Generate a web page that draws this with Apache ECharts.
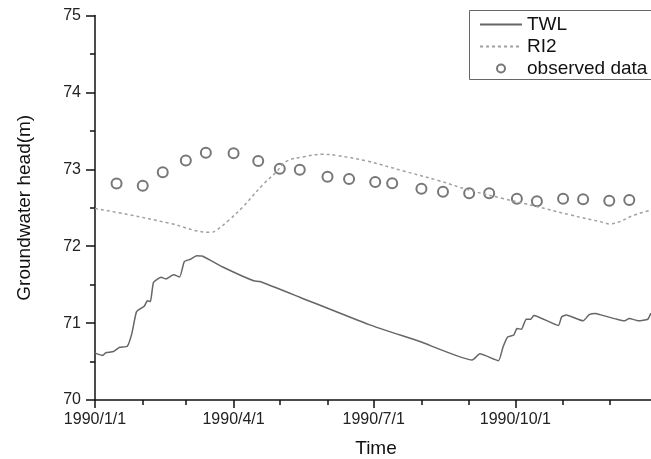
<!DOCTYPE html>
<html>
<head>
<meta charset="utf-8">
<script src="https://cdn.jsdelivr.net/npm/echarts@6/dist/echarts.min.js"></script>
<style>
html, body { margin: 0; padding: 0; background: #fff; }
#chart { width: 651px; height: 459px; }
</style>
</head>
<body>
<div id="chart"></div>
<script>
// simulated heads, TWL
var twlDates = ['1990-01-01','1990-01-06','1990-01-08','1990-01-13','1990-01-17','1990-01-22','1990-01-25','1990-01-28',
    '1990-02-02','1990-02-04','1990-02-06','1990-02-08','1990-02-13','1990-02-16','1990-02-21','1990-02-25','1990-02-28',
    '1990-03-04','1990-03-08','1990-03-12','1990-03-25','1990-04-14','1990-04-18','1990-05-14','1990-06-28','1990-07-31',
    '1990-09-03','1990-09-08','1990-09-20','1990-09-23','1990-09-26','1990-09-30','1990-10-02','1990-10-05','1990-10-08',
    '1990-10-11','1990-10-13','1990-10-29','1990-10-31','1990-11-03','1990-11-14','1990-11-18','1990-11-22','1990-11-25',
    '1990-12-06','1990-12-11','1990-12-14','1990-12-20','1990-12-26','1990-12-28'];
var twlValues = [70.61,70.58,70.615,70.63,70.685,70.70,70.87,71.15,
    71.22,71.29,71.28,71.53,71.595,71.575,71.63,71.60,71.80,
    71.83,71.876,71.87,71.73,71.55,71.54,71.337,70.98,70.76,
    70.52,70.60,70.51,70.69,70.82,70.845,70.93,70.92,71.05,
    71.05,71.10,70.97,71.08,71.105,71.03,71.11,71.125,71.11,
    71.05,71.03,71.06,71.03,71.05,71.13];

// RI2
var ri2Dates = ['1990-01-01','1990-01-23','1990-02-18','1990-03-17','1990-03-21','1990-03-29','1990-04-07','1990-04-20',
    '1990-04-29','1990-05-05','1990-05-16','1990-05-29','1990-06-07','1990-06-26','1990-07-20','1990-08-11','1990-09-01',
    '1990-09-23','1990-10-14','1990-11-05','1990-11-27','1990-12-01','1990-12-18','1990-12-28'];
var ri2Values = [72.49,72.41,72.30,72.18,72.21,72.34,72.51,72.80,
    72.97,73.10,73.16,73.195,73.18,73.11,72.98,72.86,72.73,
    72.62,72.52,72.41,72.31,72.29,72.41,72.47];

// observed data
var obsDates = ['1990-01-15','1990-02-01','1990-02-14','1990-03-01','1990-03-14','1990-04-01','1990-04-17','1990-05-01',
    '1990-05-14','1990-06-01','1990-06-15','1990-07-02','1990-07-13','1990-08-01','1990-08-15','1990-09-01','1990-09-14',
    '1990-10-02','1990-10-15','1990-11-01','1990-11-14','1990-12-01','1990-12-14'];
var obsValues = [72.815,72.787,72.961,73.114,73.216,73.208,73.108,73.008,
    72.995,72.904,72.874,72.835,72.818,72.748,72.709,72.688,72.688,
    72.618,72.584,72.618,72.610,72.592,72.601];

// axis ticks
var monthTicks = ['1990-01-01','1990-02-01','1990-03-01','1990-04-01','1990-05-01','1990-06-01','1990-07-01',
    '1990-08-01','1990-09-01','1990-10-01','1990-11-01','1990-12-01'];
var labelTicks = ['1990-01-01','1990-04-01','1990-07-01','1990-10-01'];
var xStart = '1990-01-01', xEnd = '1991-01-01';
var yMin = 70, yMax = 75, yStep = 1;

function t(d) {
    return +echarts.time.parse(d);
}
function pairs(dates, vals) {
    var out = [];
    for (var i = 0; i < dates.length; i++) {
        out.push([t(dates[i]), vals[i]]);
    }
    return out;
}
function fmtDate(v) {
    var d = new Date(v);
    return d.getFullYear() + '/' + (d.getMonth() + 1) + '/' + d.getDate();
}

var font = 'Arial, "Liberation Sans", sans-serif';
var axisColor = '#111';
var myChart = echarts.init(document.getElementById('chart'));

var option = {
    animation: false,
    textStyle: { fontFamily: font },
    grid: { left: 95, top: 15.5, width: 562, height: 384.5, containLabel: false, outerBoundsMode: 'none' },
    // legend frame, open on the right where the original is cut off
    graphic: [{
        type: 'polyline',
        shape: { points: [[700, 10.5], [469.5, 10.5], [469.5, 79.5], [700, 79.5]] },
        style: { fill: 'none', stroke: '#666', lineWidth: 1 },
        silent: true
    }],
    legend: {
        orient: 'vertical',
        left: 469,
        top: 10,
        padding: [5, 0, 5, 10],
        itemGap: 3,
        itemWidth: 42,
        itemHeight: 8,
        borderWidth: 0,
        textStyle: { fontFamily: font, fontSize: 19, color: '#111' },
        data: [
            { name: 'TWL', itemStyle: { opacity: 0 } },
            { name: 'RI2', itemStyle: { opacity: 0 } },
            { name: 'observed data' }
        ]
    },
    xAxis: [{
        type: 'value',
        min: t(xStart),
        max: t(xEnd),
        position: 'bottom',
        name: 'Time',
        nameLocation: 'middle',
        nameGap: 39,
        nameTextStyle: { fontSize: 19, color: '#111', fontFamily: font },
        axisLine: { show: true, lineStyle: { color: axisColor, width: 1.5 } },
        axisTick: { show: true, length: 8, lineStyle: { color: axisColor, width: 1.5 }, customValues: labelTicks.map(t) },
        axisLabel: {
            show: true, margin: 12, fontSize: 16, color: '#222', fontFamily: font,
            customValues: labelTicks.map(t),
            formatter: function (v) { return fmtDate(v); }
        },
        splitLine: { show: false }
    }, {
        type: 'value',
        min: t(xStart),
        max: t(xEnd),
        position: 'bottom',
        axisLine: { show: false },
        axisTick: { show: true, length: 5, lineStyle: { color: axisColor, width: 1.5 }, customValues: monthTicks.map(t) },
        axisLabel: { show: false },
        splitLine: { show: false }
    }],
    yAxis: {
        type: 'value',
        min: yMin,
        max: yMax,
        interval: yStep,
        name: 'Groundwater head(m)',
        nameLocation: 'middle',
        nameGap: 61,
        nameTextStyle: { fontSize: 19, color: '#111', fontFamily: font },
        axisLine: { show: true, lineStyle: { color: axisColor, width: 1.5 } },
        axisTick: { show: true, length: 9, lineStyle: { color: axisColor, width: 1.5 } },
        minorTick: { show: true, splitNumber: 2, length: 5, lineStyle: { color: axisColor, width: 1.5 } },
        axisLabel: { margin: 14, fontSize: 16, color: '#222', fontFamily: font },
        splitLine: { show: false },
        minorSplitLine: { show: false }
    },
    series: [{
        name: 'TWL',
        type: 'line',
        symbol: 'none',
        smooth: 0.15,
        lineStyle: { color: '#666', width: 1.5 },
        itemStyle: { color: '#666' },
        data: pairs(twlDates, twlValues)
    }, {
        name: 'RI2',
        type: 'line',
        symbol: 'none',
        smooth: 0.4,
        lineStyle: { color: '#a0a0a0', width: 1.5, type: [3, 3] },
        itemStyle: { color: '#a0a0a0' },
        data: pairs(ri2Dates, ri2Values)
    }, {
        name: 'observed data',
        type: 'scatter',
        symbol: 'emptyCircle',
        symbolSize: 10,
        itemStyle: { color: '#555', borderWidth: 1.5 },
        data: pairs(obsDates, obsValues)
    }]
};

myChart.setOption(option);
</script>
</body>
</html>
